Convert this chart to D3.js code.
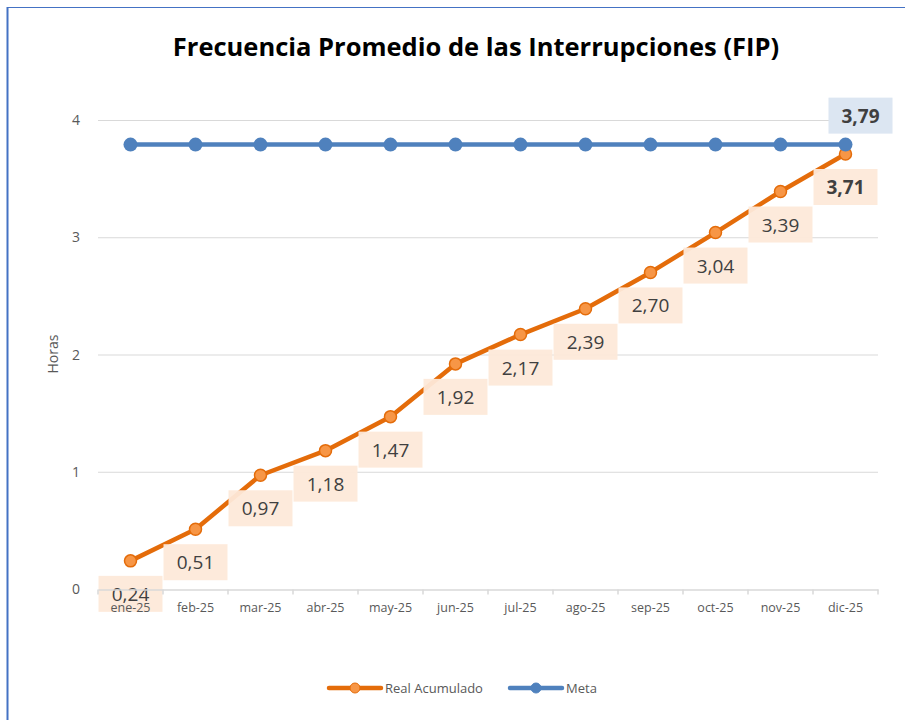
<!DOCTYPE html>
<html>
<head>
<meta charset="utf-8">
<script src="https://cdn.jsdelivr.net/npm/d3@7"></script>
<style>
  body { margin: 0; background: #fff; }
  svg text { font-family: "Open Sans", "DejaVu Sans", sans-serif; }
</style>
</head>
<body>
<svg id="chart" width="905" height="720"></svg>
<script>
// data
var months = ["ene-25", "feb-25", "mar-25", "abr-25", "may-25", "jun-25",
              "jul-25", "ago-25", "sep-25", "oct-25", "nov-25", "dic-25"]
var realAcumulado = [0.24, 0.51, 0.97, 1.18, 1.47, 1.92, 2.17, 2.39, 2.70, 3.04, 3.39, 3.71]
var meta = [3.79, 3.79, 3.79, 3.79, 3.79, 3.79, 3.79, 3.79, 3.79, 3.79, 3.79, 3.79]
var yTicks = [0, 1, 2, 3, 4]

var svg = d3.select("#chart")

// frame of the chart area
svg.append("line").attr("x1", 7.5).attr("x2", 7.5).attr("y1", 7).attr("y2", 720)
    .attr("stroke", "#4472c4").attr("stroke-width", 2)
svg.append("line").attr("x1", 7).attr("x2", 905).attr("y1", 7.5).attr("y2", 7.5)
    .attr("stroke", "#4472c4").attr("stroke-width", 1)

// title
svg.append("text")
    .attr("x", 476).attr("y", 56)
    .attr("text-anchor", "middle")
    .attr("font-size", 25.5).attr("font-weight", "bold")
    .attr("fill", "#000")
    .text("Frecuencia Promedio de las Interrupciones (FIP)")

var x = d3.scaleBand().domain(months).range([98, 878])
var y = d3.scaleLinear().domain([0, 4]).range([589, 120])

// gridlines
svg.append("g").selectAll("line").data(yTicks.filter(d => d > 0)).join("line")
    .attr("x1", 98).attr("x2", 878)
    .attr("y1", d => y(d) + 0.5).attr("y2", d => y(d) + 0.5)
    .attr("stroke", "#d9d9d9").attr("stroke-width", 1)

// y axis labels
svg.append("g").selectAll("text").data(yTicks).join("text")
    .attr("x", 80).attr("y", d => y(d) + 5)
    .attr("text-anchor", "end")
    .attr("font-size", 14).attr("fill", "#595959")
    .text(d => d)

svg.append("text")
    .attr("transform", "translate(58,354) rotate(-90)")
    .attr("text-anchor", "middle")
    .attr("font-size", 14).attr("fill", "#595959")
    .text("Horas")

var cx = d => x(d) + x.bandwidth() / 2

var line = d3.line()
    .x((d, i) => cx(months[i]))
    .y(d => y(d))

// Real Acumulado series
var orangeLine = "#e46c0a", orangeFill = "#f79646"
svg.append("path").datum(realAcumulado)
    .attr("d", line).attr("fill", "none")
    .attr("stroke", orangeLine).attr("stroke-width", 4.5)
    .attr("stroke-linejoin", "round")
svg.append("g").selectAll("circle").data(realAcumulado).join("circle")
    .attr("cx", (d, i) => cx(months[i])).attr("cy", d => y(d))
    .attr("r", 6).attr("fill", orangeFill)
    .attr("stroke", orangeLine).attr("stroke-width", 1.5)

// Meta series
var blue = "#4f81bd"
svg.append("path").datum(meta)
    .attr("d", line).attr("fill", "none")
    .attr("stroke", blue).attr("stroke-width", 4.5)
svg.append("g").selectAll("circle").data(meta).join("circle")
    .attr("cx", (d, i) => cx(months[i])).attr("cy", d => y(d))
    .attr("r", 7).attr("fill", blue)

var fmt = d => d.toFixed(2).replace(".", ",")

// data labels for real values, below each point
var lab = svg.append("g").selectAll("g").data(realAcumulado).join("g")
    .attr("transform", (d, i) => "translate(" + cx(months[i]) + "," + (y(d) + 33) + ")")
lab.append("rect")
    .attr("x", -32).attr("y", -18).attr("width", 64).attr("height", 36)
    .attr("fill", "#fde9d9").attr("fill-opacity", 0.95)
lab.append("text")
    .attr("text-anchor", "middle").attr("y", 7)
    .attr("font-size", 19).attr("fill", "#404040")
    .attr("font-weight", (d, i) => i === realAcumulado.length - 1 ? "bold" : "normal")
    .text(fmt)

// label for the last meta value
var last = meta.length - 1
var ml = svg.append("g")
    .attr("transform", "translate(" + (cx(months[last]) + 15) + "," + (y(meta[last]) - 29) + ")")
ml.append("rect")
    .attr("x", -32).attr("y", -18).attr("width", 64).attr("height", 36)
    .attr("fill", "#dce6f2")
ml.append("text")
    .attr("text-anchor", "middle").attr("y", 7)
    .attr("font-size", 19).attr("font-weight", "bold").attr("fill", "#404040")
    .text(fmt(meta[last]))

// x axis, drawn last so the category names stay visible over the first label
var xAxis = svg.append("g")
    .attr("transform", "translate(0," + (y(0) + 0.5) + ")")
    .call(d3.axisBottom(x).tickSize(0).tickPadding(14))
xAxis.select(".domain").attr("stroke", "#d9d9d9").attr("stroke-width", 1.5)
xAxis.selectAll("text").attr("font-size", 12.5).attr("fill", "#595959")
// tick marks at band edges
xAxis.append("g").selectAll("line").data(months.concat(["end"])).join("line")
    .attr("x1", (d, i) => 98 + i * x.step()).attr("x2", (d, i) => 98 + i * x.step())
    .attr("y1", 0).attr("y2", 5)
    .attr("stroke", "#d9d9d9").attr("stroke-width", 1.5)

// legend
var legend = [
    {name: "Real Acumulado", x: 329, stroke: orangeLine, fill: orangeFill, r: 5},
    {name: "Meta", x: 510, stroke: blue, fill: blue, r: 5}
]
var lg = svg.append("g").selectAll("g").data(legend).join("g")
    .attr("transform", d => "translate(" + d.x + ",688)")
lg.append("line").attr("x1", 0).attr("x2", 52).attr("y1", 0).attr("y2", 0)
    .attr("stroke", d => d.stroke).attr("stroke-width", 4.5).attr("stroke-linecap", "round")
lg.append("circle").attr("cx", 26).attr("cy", 0).attr("r", d => d.r)
    .attr("fill", d => d.fill).attr("stroke", d => d.stroke).attr("stroke-width", 1)
lg.append("text").attr("x", 56).attr("y", 5)
    .attr("font-size", 13).attr("fill", "#595959")
    .text(d => d.name)
</script>
</body>
</html>
